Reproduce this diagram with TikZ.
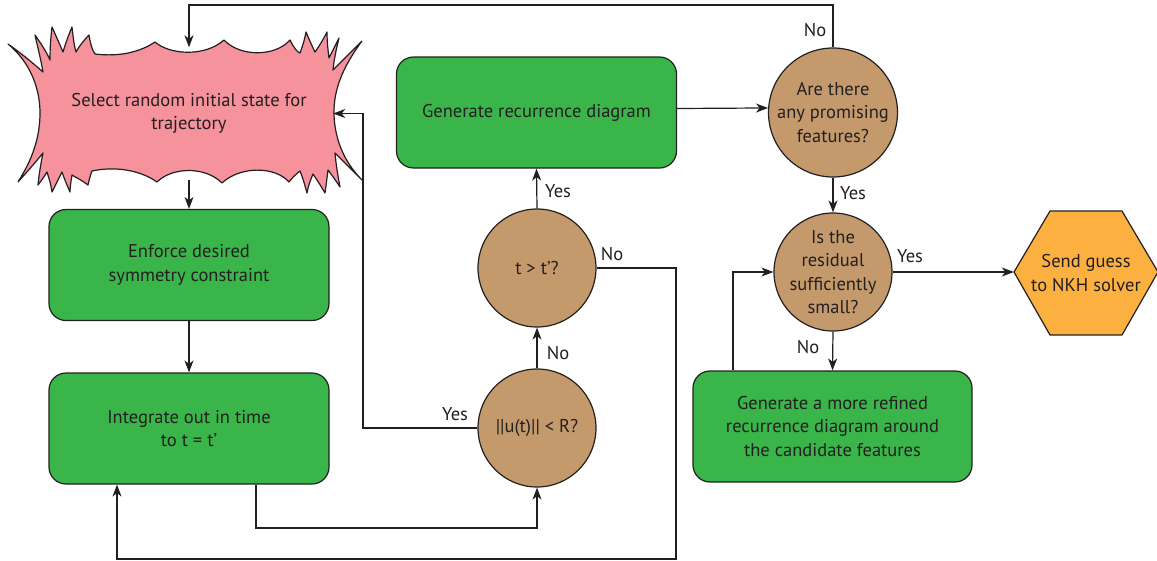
\documentclass[tikz,border=0pt]{standalone}
\usepackage{fontspec}
\setmainfont{PT Sans}
\usetikzlibrary{arrows.meta,calc}
\definecolor{ink}{HTML}{231F20}
\definecolor{boxgreen}{HTML}{39B54A}
\definecolor{decbrown}{HTML}{C49A6C}
\definecolor{hexorange}{HTML}{FBB040}
\definecolor{burstpink}{HTML}{F5929C}
\tikzset{
  proc/.style={draw=ink, line width=1.2pt, fill=boxgreen, rounded corners=17pt,
    minimum width=280pt, minimum height=111pt, align=center, inner sep=0pt},
  dec/.style={draw=ink, line width=1.2pt, fill=decbrown, circle, minimum size=#1, inner sep=0pt},
  arr/.style={draw=ink, line width=1.2pt, -{Stealth[length=12pt,width=9pt,inset=3.5pt]}},
  lbl/.style={text=ink, inner sep=0pt},
  every label/.style={align=center, text=ink}
}
\begin{document}
\begin{tikzpicture}[x=1pt,y=-1pt, font=\fontsize{18.5}{23.5}\selectfont, text=ink]
\useasboundingbox (0,0) rectangle (1157,560);
% pink burst
\filldraw[fill=burstpink, draw=ink, line width=1.2pt, line join=round]
(8,44) .. controls (25,56) and (36,66) .. (43,72)
.. controls (40,55) and (37,45) .. (35,35)
.. controls (42,45) and (47,53) .. (50,60)
.. controls (50,45) and (51,36) .. (52,27)
.. controls (56,36) and (60,45) .. (63,52)
.. controls (66,42) and (69,34) .. (72,27)
.. controls (73,36) and (74,45) .. (76,52)
.. controls (80,45) and (85,39) .. (89,35)
.. controls (90,42) and (92,50) .. (95,54)
.. controls (120,57) and (140,52) .. (155,42)
.. controls (170,55) and (205,57) .. (224,40)
.. controls (240,57) and (275,57) .. (290,40)
.. controls (294,48) and (297,52) .. (300,53)
.. controls (303,45) and (305,38) .. (306,32)
.. controls (309,39) and (312,46) .. (315,52)
.. controls (320,45) and (324,38) .. (327,32)
.. controls (327,42) and (328,50) .. (329,58)
.. controls (333,50) and (336,44) .. (339,38)
.. controls (336,50) and (334,60) .. (333,70)
.. controls (343,60) and (353,50) .. (362,41)
.. controls (342,68) and (334,90) .. (334,112)
.. controls (334,135) and (342,160) .. (362,180)
.. controls (352,170) and (343,161) .. (335,153)
.. controls (336,165) and (338,176) .. (340,187)
.. controls (336,181) and (332,175) .. (328,170)
.. controls (327,178) and (326,186) .. (325,193)
.. controls (321,186) and (317,180) .. (313,174)
.. controls (310,181) and (308,187) .. (307,193)
.. controls (305,186) and (303,178) .. (300,171)
.. controls (296,174) and (292,178) .. (289,182)
.. controls (275,166) and (240,166) .. (222,183)
.. controls (205,166) and (172,167) .. (157,182)
.. controls (140,170) and (115,166) .. (92,171)
.. controls (90,176) and (89,181) .. (88,185)
.. controls (83,181) and (77,178) .. (72,175)
.. controls (71,181) and (70,187) .. (70,192)
.. controls (67,185) and (64,178) .. (62,172)
.. controls (58,180) and (55,186) .. (52,192)
.. controls (51,185) and (49,178) .. (47,172)
.. controls (44,177) and (41,181) .. (38,185)
.. controls (39,174) and (41,163) .. (43,153)
.. controls (35,163) and (26,173) .. (18,182)
.. controls (32,160) and (40,138) .. (40,113)
.. controls (40,88) and (30,62) .. cycle;
\node[minimum width=288pt, minimum height=132pt, inner sep=0pt, align=center] (pink) at (189,113.5)
  {Select random initial state for\\trajectory};
% process boxes
\node[proc] (enforce) at (189,265) {Enforce desired\\symmetry constraint};
\node[proc] (integ) at (189,428.5) {Integrate out in time\\to t = t’};
\node[proc] (gen) at (536.5,112.5) {Generate recurrence diagram};
\node[proc, minimum width=279pt] (refine) at (832.5,426.5) {Generate a more refined\\recurrence diagram around\\the candidate features};
% decisions
\node[dec=118pt, label=center:{t > t’?}] (tt) at (537,268) {};
\node[dec=118pt, label=center:{||u(t)|| < R?}] (unorm) at (537,428) {};
\node[dec=129pt, label={center:Are there\\any promising\\features?}] (are) at (833,112.5) {};
\node[dec=118pt, label={center:Is the\\residual\\sufficiently\\small?}] (resid) at (833,272) {};
% hexagon
\filldraw[fill=hexorange, draw=ink, line width=1.2pt, line join=miter]
  (1014,272) -- (1050,211) -- (1122,211) -- (1158,272) -- (1122,335) -- (1050,335) -- cycle;
\node[minimum width=144pt, minimum height=124pt, inner sep=0pt, align=center] (hex) at (1086,273)
  {Send guess\\to NKH solver};
% connectors
\coordinate (topy) at (0,5);
\draw[arr] (are.north) -- (are.north |- topy) -| (pink.north);
\draw[arr] (pink.south) -- (enforce.north);
\draw[arr] (enforce.south) -- (integ.north);
\coordinate (b1) at (256,528);
\draw[arr] (integ.south -| b1) -- (b1) -- (b1 -| unorm.south) -- (unorm.south);
\draw[arr] (unorm.north) -- (tt.south);
\coordinate (c2) at (363,0);
\draw[arr] (unorm.west) -- (unorm.west -| c2) -- (c2 |- pink.east) -- (pink.east);
\draw[arr] (tt.north) -- (gen.south);
\coordinate (c3) at (676,559);
\coordinate (c4) at (117,559);
\draw[arr] (tt.east) -- (tt.east -| c3) -- (c3) -- (c4) -- (c4 |- integ.south);
\draw[arr] ([yshift=4pt]gen.east) -- (are.176);
\draw[arr] (are.south) -- (resid.north);
\draw[arr] (resid.east) -- (hex.west |- resid.east);
\draw[arr] (resid.south) -- (refine.north);
\coordinate (c5) at (733,0);
\draw[arr] (refine.north -| c5) -- (c5 |- resid.west) -- (resid.west);
% labels
\node[lbl] (l1) at (815,30) {No};
\node[lbl] (l2) at (558,191) {Yes};
\node[lbl] (l3) at (612,254) {No};
\node[lbl] (l4) at (558,353) {No};
\node[lbl] (l5) at (455,414) {Yes};
\node[lbl] (l6) at (853,193) {Yes};
\node[lbl] (l7) at (910,256) {Yes};
\node[lbl] (l8) at (808,347) {No};
\end{tikzpicture}
\end{document}
